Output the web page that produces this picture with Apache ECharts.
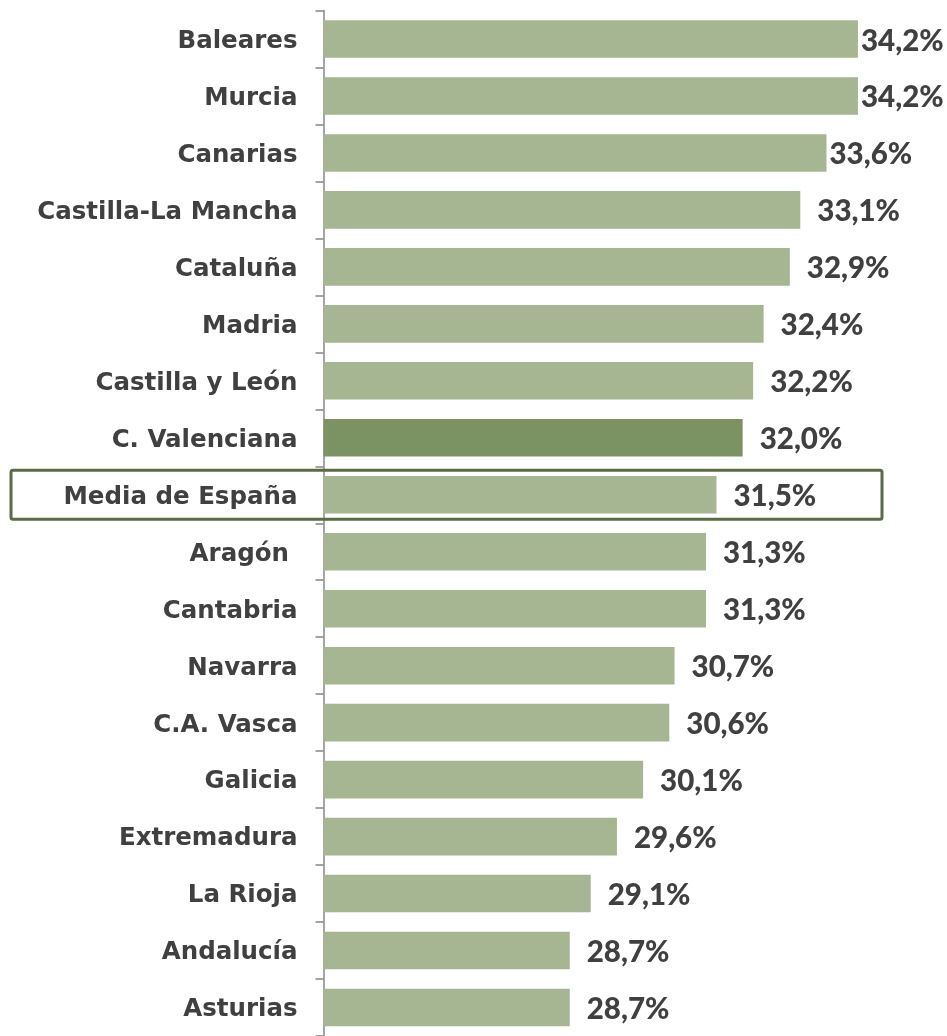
<!DOCTYPE html>
<html>
<head>
<meta charset="utf-8">
<style>
  html, body { margin: 0; padding: 0; background: #ffffff; }
  #chart { width: 947px; height: 1036px; }
</style>
<script src="https://cdn.jsdelivr.net/npm/echarts@6/dist/echarts.min.js"></script>
</head>
<body>
<div id="chart"></div>
<script>
// Regions, ordered top to bottom
const regions = [
  'Baleares', 'Murcia', 'Canarias', 'Castilla-La Mancha', 'Cataluña', 'Madria',
  'Castilla y León', 'C. Valenciana', 'Media de España', 'Aragón ', 'Cantabria',
  'Navarra', 'C.A. Vasca', 'Galicia', 'Extremadura', 'La Rioja', 'Andalucía', 'Asturias'
];
// Percentage per region
const values = [
  34.2, 34.2, 33.6, 33.1, 32.9, 32.4,
  32.2, 32.0, 31.5, 31.3, 31.3,
  30.7, 30.6, 30.1, 29.6, 29.1, 28.7, 28.7
];
const highlightRegion = 'C. Valenciana';
const averageRegion = 'Media de España';

const BAR = '#a6b592';
const BAR_DARK = '#7b9363';
const FRAME = '#5b6b45';
const TEXT = '#404040';
const CAT_FONT = '"DejaVu Sans", Verdana, sans-serif';
const VAL_FONT = 'Lato, "Open Sans", sans-serif';

const seriesData = regions.map((name, i) => {
  const v = values[i];
  const item = {
    value: v,
    itemStyle: { color: name === highlightRegion ? BAR_DARK : BAR }
  };
  // the longest bars keep their labels tight so they stay inside the canvas
  if (v > 33.5) item.label = { distance: 3 };
  return item;
});

const chart = echarts.init(document.getElementById('chart'), null, { renderer: 'canvas' });

const option = {
  animation: false,
  backgroundColor: '#ffffff',
  grid: { left: 323.5, top: 10.5, right: 0, height: 1030, containLabel: false },
  xAxis: {
    type: 'value',
    min: 24,
    max: 35.9,
    show: false
  },
  yAxis: {
    type: 'category',
    data: regions,
    inverse: true,
    axisLine: { show: true, lineStyle: { color: '#878787', width: 1.5 } },
    axisTick: { show: true, length: 8, lineStyle: { color: '#878787', width: 1.5 } },
    axisLabel: {
      margin: 26,
      formatter: v => '{c|' + v + '}',
      rich: {
        c: {
          color: TEXT,
          fontFamily: CAT_FONT,
          fontWeight: 'bold',
          fontSize: 24.5,
          padding: [5, 0, 0, 0]
        }
      }
    },
    splitLine: { show: false }
  },
  series: [{
    type: 'bar',
    data: seriesData,
    barCategoryGap: '34%',
    label: {
      show: true,
      position: 'right',
      distance: 17,
      offset: [0, 2],
      color: TEXT,
      fontFamily: VAL_FONT,
      fontWeight: 900,
      fontSize: 29.5,
      formatter: p => p.value.toFixed(1).replace('.', ',') + '%'
    }
  }]
};
chart.setOption(option);

// Frame around the national average row
const avgIndex = regions.indexOf(averageRegion);
const yMid = chart.convertToPixel({ yAxisIndex: 0 }, regions[avgIndex]);
chart.setOption({
  graphic: [{
    type: 'rect',
    z: 100,
    shape: { x: 11, y: yMid - 24.5, width: 871, height: 49, r: 2 },
    style: { fill: 'none', stroke: FRAME, lineWidth: 3 }
  }]
});
</script>
</body>
</html>
